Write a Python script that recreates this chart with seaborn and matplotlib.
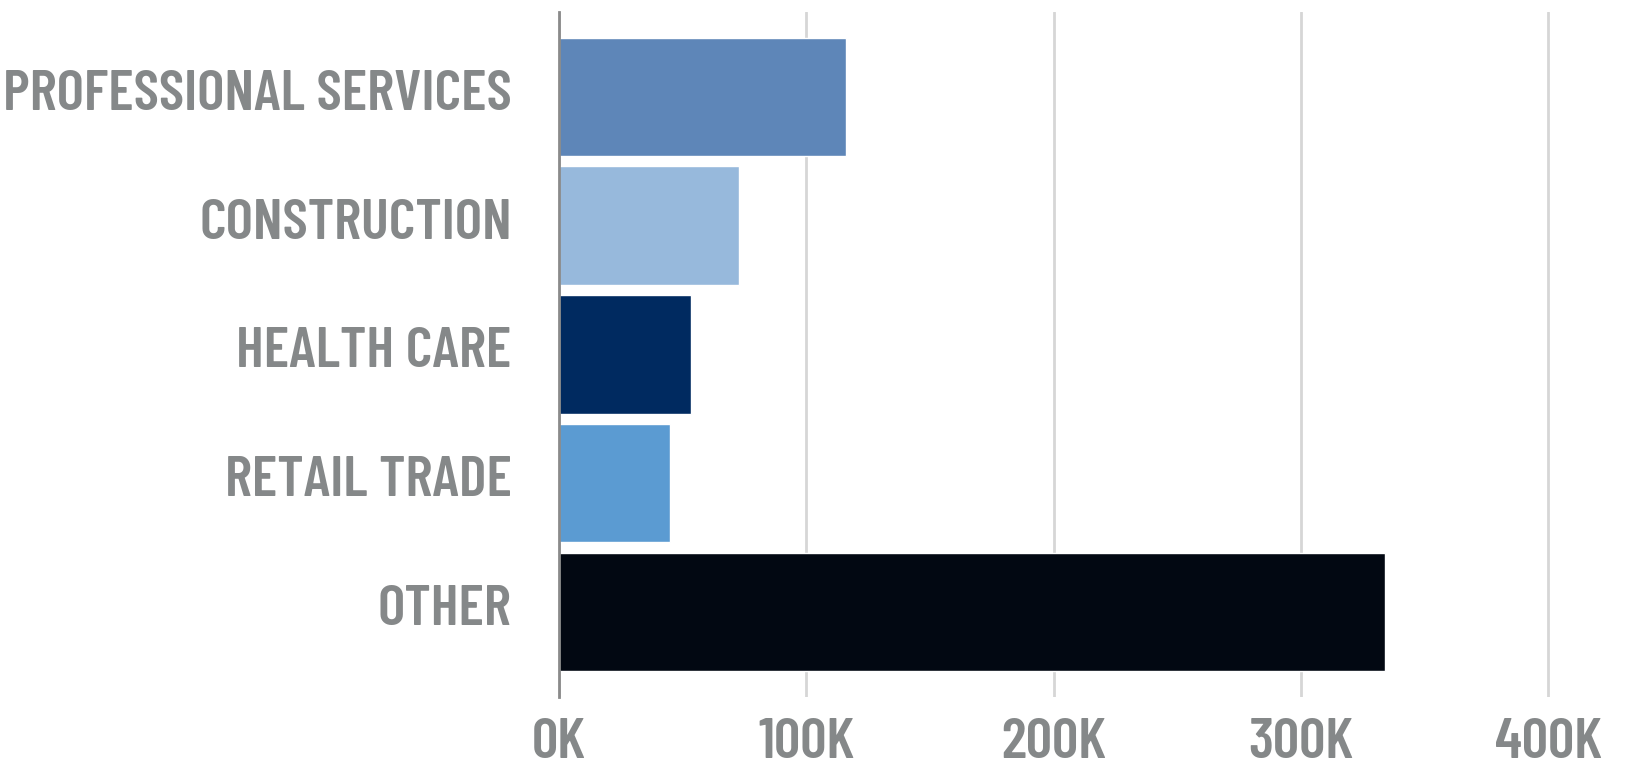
import matplotlib
matplotlib.use("Agg")
import matplotlib.pyplot as plt
import matplotlib.transforms as mtransforms
import seaborn as sns
import pandas as pd
from matplotlib.ticker import FuncFormatter

categories = ["PROFESSIONAL SERVICES", "CONSTRUCTION", "HEALTH CARE", "RETAIL TRADE", "OTHER"]
values = [116000, 72800, 53200, 44800, 334000]
colors = ["#5E86B8", "#97B9DC", "#002A60", "#5B9BD2", "#020812"]
xticks = [0, 100000, 200000, 300000, 400000]

sns.set_theme(style="white")
plt.rcParams['font.family'] = ['Barlow Condensed', 'DejaVu Sans']

df = pd.DataFrame({"category": categories, "value": values})

fig = plt.figure(figsize=(16.31, 7.71), dpi=100)
ax = fig.add_axes([0.3427, 0.096, 0.652, 0.8885])

sns.barplot(data=df, y="category", x="value", hue="category", palette=colors,
            order=categories, hue_order=categories, width=0.92, saturation=1,
            legend=False, ax=ax, orient="h")

ax.set_xlim(0, 430000)
ax.set_ylim(4.66, -0.66)
ax.set_xticks(xticks)
ax.xaxis.set_major_formatter(FuncFormatter(lambda v, p: f"{int(v/1000)}K"))
ax.set_axisbelow(True)
ax.grid(axis="x", color="#D6D6D6", linewidth=2)
ax.grid(axis="y", visible=False)
for s in ["top", "right", "bottom"]:
    ax.spines[s].set_visible(False)
ax.spines["left"].set_color("#8A8A8A")
ax.spines["left"].set_linewidth(2)
ax.set_xlabel("")
ax.set_ylabel("")
ax.tick_params(axis="y", length=0, pad=34, labelsize=42, labelcolor="#858889")
ax.tick_params(axis="x", length=0, pad=15, labelsize=42, labelcolor="#858889")
for t in ax.get_yticklabels() + ax.get_xticklabels():
    t.set_fontweight("semibold")
shift = mtransforms.ScaledTranslation(0, 0.07, fig.dpi_scale_trans)
for t in ax.get_yticklabels():
    t.set_transform(t.get_transform() + shift)

fig.savefig("out.png", dpi=100)
